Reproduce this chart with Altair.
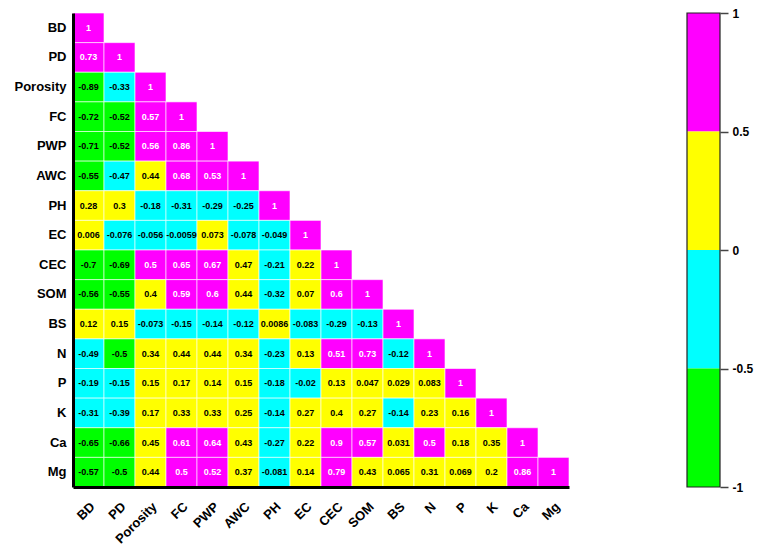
import altair as alt
import pandas as pd

# Soil property names, in matrix order
variables = ["BD", "PD", "Porosity", "FC", "PWP", "AWC", "PH", "EC",
             "CEC", "SOM", "BS", "N", "P", "K", "Ca", "Mg"]

# Lower-triangular Pearson correlation coefficients, one list per row
r_BD = [1]
r_PD = [0.73, 1]
r_Porosity = [-0.89, -0.33, 1]
r_FC = [-0.72, -0.52, 0.57, 1]
r_PWP = [-0.71, -0.52, 0.56, 0.86, 1]
r_AWC = [-0.55, -0.47, 0.44, 0.68, 0.53, 1]
r_PH = [0.28, 0.3, -0.18, -0.31, -0.29, -0.25, 1]
r_EC = [0.006, -0.076, -0.056, -0.0059, 0.073, -0.078, -0.049, 1]
r_CEC = [-0.7, -0.69, 0.5, 0.65, 0.67, 0.47, -0.21, 0.22, 1]
r_SOM = [-0.56, -0.55, 0.4, 0.59, 0.6, 0.44, -0.32, 0.07, 0.6, 1]
r_BS = [0.12, 0.15, -0.073, -0.15, -0.14, -0.12, 0.0086, -0.083, -0.29, -0.13, 1]
r_N = [-0.49, -0.5, 0.34, 0.44, 0.44, 0.34, -0.23, 0.13, 0.51, 0.73, -0.12, 1]
r_P = [-0.19, -0.15, 0.15, 0.17, 0.14, 0.15, -0.18, -0.02, 0.13, 0.047, 0.029, 0.083, 1]
r_K = [-0.31, -0.39, 0.17, 0.33, 0.33, 0.25, -0.14, 0.27, 0.4, 0.27, -0.14, 0.23, 0.16, 1]
r_Ca = [-0.65, -0.66, 0.45, 0.61, 0.64, 0.43, -0.27, 0.22, 0.9, 0.57, 0.031, 0.5, 0.18, 0.35, 1]
r_Mg = [-0.57, -0.5, 0.44, 0.5, 0.52, 0.37, -0.081, 0.14, 0.79, 0.43, 0.065, 0.31, 0.069, 0.2, 0.86, 1]

rows = [r_BD, r_PD, r_Porosity, r_FC, r_PWP, r_AWC, r_PH, r_EC,
        r_CEC, r_SOM, r_BS, r_N, r_P, r_K, r_Ca, r_Mg]

# Colour classes of the correlation scale
class_edges = [-0.4999, 0, 0.5]
class_colors = ["#00FF00", "#00FFFF", "#FFFF00", "#FF00FF"]

# Colour bar segments
bar_lo = [0.5, 0, -0.5, -1]
bar_hi = [1, 0.5, 0, -0.5]
bar_ticks = [-1, -0.5, 0, 0.5, 1]

FONT = "Liberation Sans"
PANEL_H = 474

records = []
for i, name in enumerate(variables):
    for j, v in enumerate(rows[i]):
        records.append({"row": name, "col": variables[j], "r": v, "label": f"{v:g}"})
df = pd.DataFrame(records)

color_scale = alt.Scale(type="threshold", domain=class_edges, range=class_colors)

base = alt.Chart(df).encode(
    x=alt.X("col:N", sort=variables,
            axis=alt.Axis(title=None, labelAngle=-45, ticks=False, domainWidth=3,
                          domainColor="black", labelFont=FONT, labelFontSize=13,
                          labelFontWeight="bold", labelColor="black", labelPadding=13)),
    y=alt.Y("row:N", sort=variables,
            axis=alt.Axis(title=None, ticks=False, domainWidth=3, domainColor="black",
                          labelFont=FONT, labelFontSize=13, labelFontWeight="bold",
                          labelColor="black", labelPadding=7)),
)

cells = base.mark_rect(stroke="white", strokeWidth=0.6).encode(
    color=alt.Color("r:Q", scale=color_scale, legend=None)
)
values = base.mark_text(font=FONT, fontSize=9, fontWeight="bold").encode(
    text="label:N",
    color=alt.condition("datum.r >= 0.5", alt.value("white"), alt.value("black")),
)
matrix = (cells + values).properties(width=496, height=PANEL_H)

# Colour bar
cb_df = pd.DataFrame({
    "lo": bar_lo,
    "hi": bar_hi,
    "mid": [(a + b) / 2 for a, b in zip(bar_lo, bar_hi)],
    "bar": "scale",
})
outline_df = pd.DataFrame({"lo": [min(bar_lo)], "hi": [max(bar_hi)], "bar": ["scale"]})

cb_y = alt.Y("lo:Q", scale=alt.Scale(domain=[-1, 1], nice=False),
             axis=alt.Axis(orient="right", values=bar_ticks, title=None, grid=False,
                           domain=False, tickColor="#444", tickSize=8, tickWidth=1.5,
                           labelFont=FONT, labelFontSize=12, labelFontWeight="bold",
                           labelColor="black", labelPadding=4,
                           labelExpr="'' + datum.value"))

segments = alt.Chart(cb_df).mark_rect().encode(
    x=alt.X("bar:N", axis=None),
    y=cb_y,
    y2="hi:Q",
    color=alt.Color("mid:Q", scale=color_scale, legend=None),
)
outline = alt.Chart(outline_df).mark_rect(fillOpacity=0, stroke="#222", strokeWidth=1.2).encode(
    x=alt.X("bar:N", axis=None),
    y=cb_y,
    y2="hi:Q",
)
colorbar = (segments + outline).properties(width=33, height=PANEL_H)

chart = alt.hconcat(matrix, colorbar, spacing=116).configure_view(
    stroke=None
).properties(
    padding={"left": 13, "top": 7, "right": 5, "bottom": 5},
    background="white",
)

chart.save("out.html", embed_options={"renderer": "svg", "actions": False})
